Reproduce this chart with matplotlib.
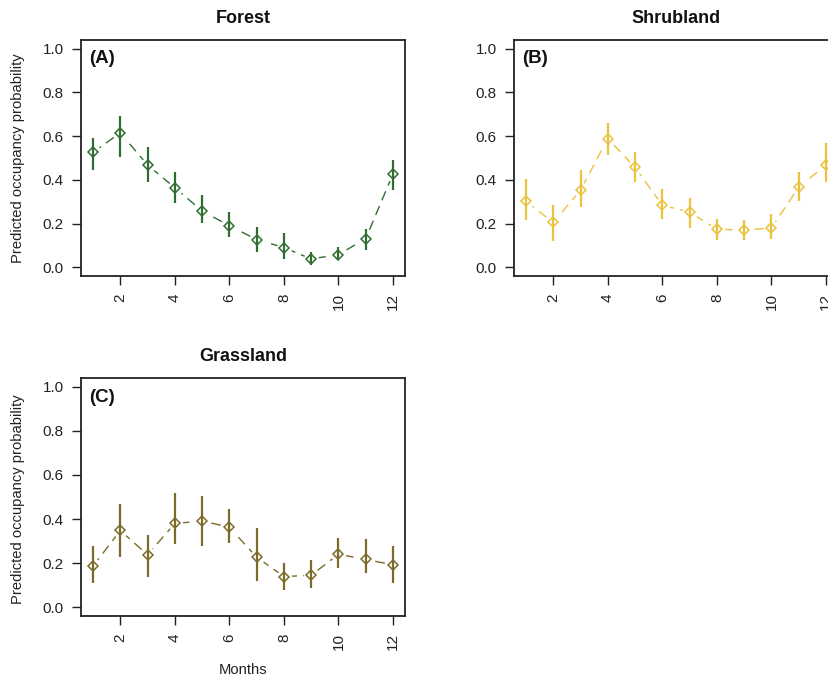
import matplotlib
matplotlib.use("Agg")
import matplotlib.pyplot as plt

plt.rcParams['font.family'] = ['Liberation Sans', 'DejaVu Sans']

months = list(range(1, 13))

# predicted occupancy with lower / upper interval per month
forest_mean = [0.526, 0.615, 0.468, 0.364, 0.258, 0.190, 0.127, 0.090, 0.038, 0.058, 0.131, 0.427]
forest_low = [0.443, 0.506, 0.390, 0.295, 0.202, 0.138, 0.070, 0.038, 0.012, 0.031, 0.081, 0.353]
forest_high = [0.593, 0.693, 0.552, 0.436, 0.332, 0.252, 0.183, 0.159, 0.072, 0.093, 0.177, 0.492]

shrub_mean = [0.301, 0.205, 0.353, 0.589, 0.457, 0.284, 0.252, 0.174, 0.170, 0.180, 0.367, 0.468]
shrub_low = [0.217, 0.118, 0.275, 0.512, 0.390, 0.222, 0.180, 0.124, 0.124, 0.128, 0.304, 0.391]
shrub_high = [0.404, 0.283, 0.446, 0.661, 0.529, 0.356, 0.317, 0.220, 0.216, 0.242, 0.436, 0.570]

grass_mean = [0.186, 0.348, 0.238, 0.380, 0.391, 0.363, 0.227, 0.139, 0.145, 0.240, 0.217, 0.192]
grass_low = [0.108, 0.227, 0.139, 0.287, 0.276, 0.289, 0.119, 0.078, 0.089, 0.176, 0.157, 0.110]
grass_high = [0.278, 0.469, 0.327, 0.516, 0.505, 0.446, 0.359, 0.202, 0.212, 0.313, 0.311, 0.279]

W, H = 829, 679
fig = plt.figure(figsize=(W / 100, H / 100), dpi=100)


def px_axes(left, top, right, bottom):
    return fig.add_axes([left / W, 1 - bottom / H, (right - left) / W, (bottom - top) / H])


def panel(ax, mean, low, high, color, tag, title):
    ax.plot(months, mean, color=color, lw=1.0, dashes=(7, 4.5), zorder=1)
    # white discs break the dashed line around each point
    ax.plot(months, mean, ls='none', marker='o', ms=11, mfc='white', mec='none', zorder=2)
    ax.vlines(months, low, high, color=color, lw=1.6, zorder=3)
    ax.plot(months, mean, ls='none', marker='D', ms=5, mfc='none', mec=color, mew=1.1, zorder=4)
    ax.set_xlim(0.56, 12.44)
    ax.set_ylim(-0.04, 1.04)
    ax.set_xticks([2, 4, 6, 8, 10, 12])
    ax.set_yticks([0.0, 0.2, 0.4, 0.6, 0.8, 1.0])
    ax.set_yticklabels(['0.0', '0.2', '0.4', '0.6', '0.8', '1.0'])
    ax.tick_params(axis='both', length=6.5, width=1.0, pad=6, labelsize=11, colors='#222222')
    ax.tick_params(axis='x', labelrotation=90)
    for s in ax.spines.values():
        s.set_linewidth(1.3)
        s.set_color('#222222')
    ax.text(0.025, 0.92, tag, transform=ax.transAxes, ha='left', va='center',
            fontsize=13.5, fontweight='bold', color='#111111')
    ax.set_title(title, fontsize=13, fontweight='bold', pad=12, color='#111111')


ax_a = px_axes(81, 40, 405, 276)
panel(ax_a, forest_mean, forest_low, forest_high, '#2f6e30', '(A)', 'Forest')

ax_b = px_axes(514, 40, 838, 276)
panel(ax_b, shrub_mean, shrub_low, shrub_high, '#eac23c', '(B)', 'Shrubland')

ax_c = px_axes(81, 378, 405, 616)
panel(ax_c, grass_mean, grass_low, grass_high, '#7b6a28', '(C)', 'Grassland')

for yc in (158, 499):
    fig.text(18 / W, 1 - yc / H, 'Predicted occupancy probability', rotation=90,
             ha='center', va='center', fontsize=10.6, color='#222222')
fig.text(243 / W, 1 - 670 / H, 'Months', ha='center', va='center', fontsize=10.6, color='#222222')

fig.savefig('out.png', dpi=100)
